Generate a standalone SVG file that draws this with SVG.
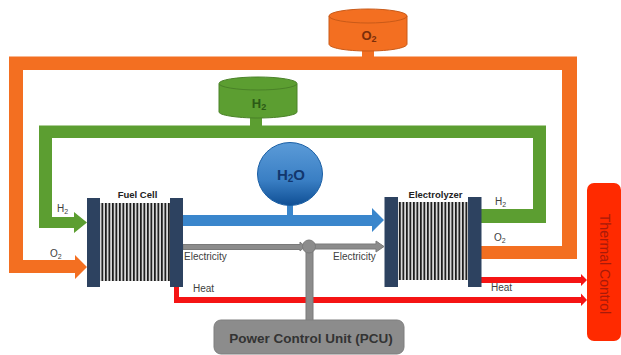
<svg xmlns="http://www.w3.org/2000/svg" width="621" height="355" viewBox="0 0 621 355">
<style>
text{font-family:"Liberation Sans",Arial,sans-serif;fill:#404040}
.l{font-size:10px}
.b{font-weight:bold}
.or{fill:#f36f21}
.gr{fill:#5c9e31}
.rd{fill:#f51414}
.gy{fill:#8c8c8c;stroke:#7a7a7a;stroke-width:1}
.pl{fill:#2d4260}
</style>
<defs>
<pattern id="st" width="3.5" height="10" patternUnits="userSpaceOnUse">
<rect width="3.5" height="10" fill="#d8d8d8"/>
<rect x="0" width="1.7" height="10" fill="#1a1a1a"/>
</pattern>
<linearGradient id="blue" x1="0" y1="0" x2="0" y2="1">
<stop offset="0" stop-color="#5b9bd8"/>
<stop offset="0.6" stop-color="#3a7fc4"/>
<stop offset="1" stop-color="#0f4f95"/>
</linearGradient>
</defs>
<g id="connectors">
<path class="or" d="M9 56.5H577V259H481V246H562V70H23V260H75V255L87 267L75 279V273H9Z"/>
<rect class="or" x="362" y="50" width="12" height="8"/>
<path class="gr" d="M39 125.5H546V223H481V209H533V138H52V217H74V212L87 222.5L74 233V228H39Z"/>
<rect class="gr" x="250" y="117" width="12" height="10"/>
<path fill="#3a86cc" d="M183 215H372V208L384 220L372 232V226H183Z"/>
<rect x="287" y="204" width="6" height="12" fill="#3a86cc"/>
<path class="rd" d="M174 287H179V297H581V293.500L587 300L581 306V303H174Z"/>
<path class="rd" d="M481 277H581V274L587 280L581 286V283H481Z"/>
<path class="gy" d="M183 244.500H300V242L305 246.500L300 251V249.500H183Z"/>
<path class="gy" d="M314 244H376V241L384 246.500L376 252V249H314Z"/>
<rect class="gy" x="306" y="250" width="7" height="71"/>
<circle class="gy" cx="309" cy="246.500" r="6.500"/>
</g>
<g id="tank-o2">
<path class="or" stroke="#c95a18" d="M329 16V44C329 48 346 51 368 51S407 48 407 44V16Z"/>
<ellipse class="or" stroke="#c95a18" cx="368" cy="16" rx="39" ry="7"/>
<text x="369" y="40" text-anchor="middle" class="b" font-size="13" style="fill:#7a2e0a">O<tspan font-size="9" dy="2">2</tspan></text>
</g>
<g id="tank-h2">
<path class="gr" stroke="#4a8228" d="M219 84V112C219 115 236 118 258 118S297 115 297 112V84Z"/>
<ellipse class="gr" stroke="#4a8228" cx="258" cy="83.500" rx="39" ry="6.500"/>
<text x="259" y="108" text-anchor="middle" class="b" font-size="13" style="fill:#2c5a16">H<tspan font-size="9" dy="2">2</tspan></text>
</g>
<g id="tank-h2o">
<ellipse cx="290" cy="174" rx="32.500" ry="31.500" fill="url(#blue)" stroke="#1a5fa5"/>
<text x="291" y="180" text-anchor="middle" class="b" font-size="15" style="fill:#12376e">H<tspan font-size="10" dy="2">2</tspan><tspan dy="-2">O</tspan></text>
</g>
<g id="fuel-cell">
<rect x="100" y="203" width="70" height="78" fill="url(#st)"/>
<rect class="pl" x="87" y="198" width="13" height="89"/>
<rect class="pl" x="170" y="198" width="13" height="89"/>
<text x="137.500" y="198" text-anchor="middle" class="b" font-size="9.500" style="fill:#222">Fuel Cell</text>
</g>
<g id="electrolyzer">
<rect x="398" y="202" width="70" height="78" fill="url(#st)"/>
<rect class="pl" x="384.500" y="197" width="13.500" height="90"/>
<rect class="pl" x="468" y="197" width="13.500" height="90"/>
<text x="435.500" y="198" text-anchor="middle" class="b" font-size="9.500" style="fill:#222">Electrolyzer</text>
</g>
<g id="pcu">
<rect x="214" y="320" width="190" height="34" rx="7" fill="#8c8c8c" stroke="#7f7f7f"/>
<text x="311" y="343" text-anchor="middle" class="b" font-size="13.500" style="fill:#333">Power Control Unit (PCU)</text>
</g>
<g id="thermal-control">
<rect x="587" y="183" width="34" height="158" rx="7" fill="#ff2a00"/>
<text transform="translate(600 264) rotate(90)" text-anchor="middle" font-size="14" style="fill:#a81a0a">Thermal Control</text>
</g>
<g id="labels">
<text class="l" x="57" y="212">H<tspan font-size="7" dy="1.500">2</tspan></text>
<text class="l" x="50" y="257">O<tspan font-size="7" dy="1.500">2</tspan></text>
<text class="l" x="495" y="205">H<tspan font-size="7" dy="1.500">2</tspan></text>
<text class="l" x="494" y="241">O<tspan font-size="7" dy="1.500">2</tspan></text>
<text class="l" x="184" y="260">Electricity</text>
<text class="l" x="333" y="260">Electricity</text>
<text class="l" x="193" y="292">Heat</text>
<text class="l" x="491" y="291">Heat</text>
</g>
</svg>
